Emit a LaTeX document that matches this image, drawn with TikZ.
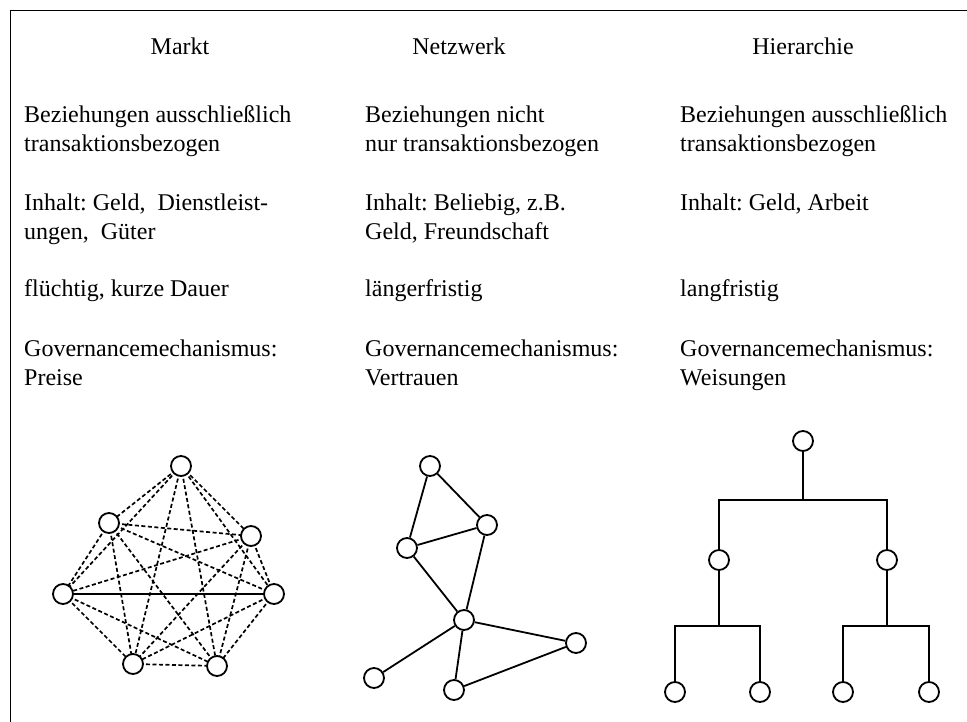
\documentclass[tikz,border=0pt]{standalone}
\usepackage{fontspec}
\setmainfont{Liberation Serif}
\frenchspacing
\begin{document}
\begin{tikzpicture}[x=1pt,y=-1pt,
  txt/.style={anchor=base west,inner sep=0pt,align=left,
    font=\fontsize{24}{29}\selectfont},
  head/.style={anchor=base,inner sep=0pt,font=\fontsize{24}{29}\selectfont},
  actor/.style={circle,draw,line width=1.8pt,minimum size=20pt,inner sep=0pt,fill=white},
  tie/.style={line width=1.8pt},
  loose/.style={line width=1.7pt,dash pattern=on 4pt off 2.5pt},
  stem/.style={line width=2.6pt}]
\useasboundingbox (0,0) rectangle (967,722);

% frame: top and left rule
\coordinate (frTL) at (10.5,10.5);
\coordinate (frTR) at (967,10.5);
\coordinate (frBL) at (10.5,722);
\draw[line width=1.8pt] (frTR) -- (frTL) -- (frBL);

% column headers
\node[head] (hM) at (180,55) {Markt};
\node[head] (hN) at (459,55) {Netzwerk};
\node[head] (hH) at (803,55) {Hierarchie};

% Markt column (each node sits on the baseline of its last line)
\node[txt] (m1) at (24,152) {Beziehungen ausschließlich\\transaktionsbezogen};
\node[txt] (m2) at (24,240) {Inhalt: Geld,\ \ Dienstleist-\\ungen,\ \ Güter};
\node[txt] (m3) at (24,297) {flüchtig, kurze Dauer};
\node[txt] (m4) at (24,385) {Governancemechanismus:\\Preise};

% Netzwerk column
\node[txt] (n1) at (365,152) {Beziehungen nicht\\nur transaktionsbezogen};
\node[txt] (n2) at (365,240) {Inhalt: Beliebig, z.B.\\Geld, Freundschaft};
\node[txt] (n3) at (365,297) {längerfristig};
\node[txt] (n4) at (365,385) {Governancemechanismus:\\Vertrauen};

% Hierarchie column
\node[txt] (r1) at (680,152) {Beziehungen ausschließlich\\transaktionsbezogen};
\node[txt] (r2) at (680,211) {Inhalt: Geld, Arbeit};
\node[txt] (r3) at (680,297) {langfristig};
\node[txt] (r4) at (680,385) {Governancemechanismus:\\Weisungen};

% Markt: complete graph, only one solid tie
\coordinate (pa) at (181,466);
\coordinate (pb) at (109,523);
\coordinate (pc) at (251,536);
\coordinate (pd) at (63,594);
\coordinate (pe) at (274,594);
\coordinate (pf) at (133,664);
\coordinate (pg) at (217,666);
\foreach \u/\v in {pa/pb,pa/pc,pa/pd,pa/pe,pa/pf,pa/pg,
                   pb/pc,pb/pd,pb/pe,pb/pf,pb/pg,
                   pc/pd,pc/pe,pc/pf,pc/pg,
                   pd/pf,pd/pg,pe/pf,pe/pg,pf/pg}
  \draw[loose] (\u) -- (\v);
\draw[tie] (pd) -- (pe);
\foreach \p in {pa,pb,pc,pd,pe,pf,pg}
  \node[actor] (k\p) at (\p) {};

% Netzwerk graph
\node[actor] (na) at (430,466) {};
\node[actor] (nb) at (487,525) {};
\node[actor] (nc) at (407,548) {};
\node[actor] (nd) at (464,620) {};
\node[actor] (ne) at (576,643) {};
\node[actor] (nf) at (374,678) {};
\node[actor] (ng) at (454,690) {};
\foreach \u/\v in {na/nb,na/nc,nc/nb,nc/nd,nb/nd,nd/ne,nd/nf,nd/ng,ng/ne}
  \draw[tie] (\u) -- (\v);

% Hierarchie tree
\node[actor] (h0) at (803,441) {};
\node[actor] (h1) at (719,560) {};
\node[actor] (h2) at (887,560) {};
\node[actor] (h3) at (675,692) {};
\node[actor] (h4) at (760,692) {};
\node[actor] (h5) at (843,692) {};
\node[actor] (h6) at (929,692) {};
\coordinate (b0) at (803,500);
\coordinate (b1) at (719,626);
\coordinate (b2) at (887,626);
\draw[stem] (h0) -- (b0);
\draw[tie] (h1.north) |- (b0) -| (h2.north);
\draw[tie] (h1) -- (b1);
\draw[stem] (h2) -- (b2);
\draw[tie] (h3.north) |- (b1) -| (h4.north);
\draw[tie] (h5.north) |- (b2) -| (h6.north);
\end{tikzpicture}
\end{document}
